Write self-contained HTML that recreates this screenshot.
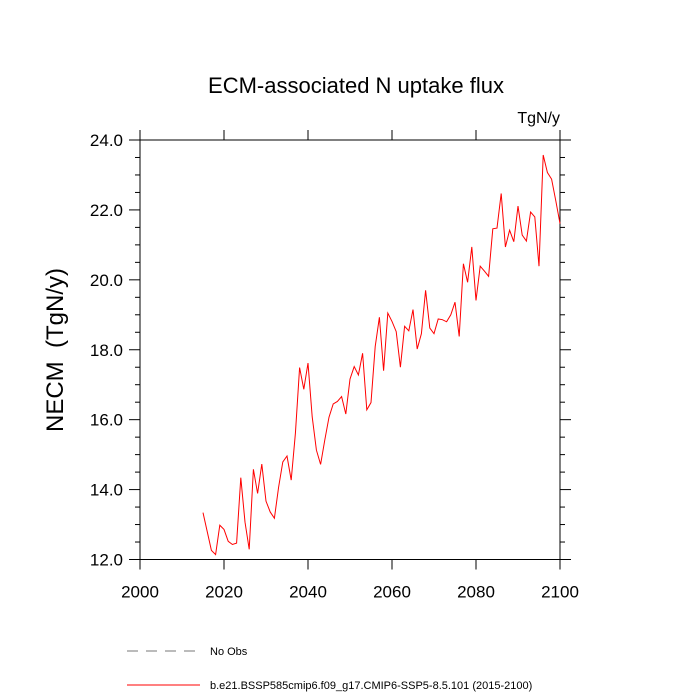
<!DOCTYPE html>
<html><head><meta charset="utf-8"><style>
html,body{margin:0;padding:0;background:#fff;width:700px;height:700px;overflow:hidden}
svg{display:block;font-family:"Liberation Sans",Arial,sans-serif}
</style></head><body>
<svg id="c" width="700" height="700" viewBox="0 0 700 700">
<text x="356" y="93" font-size="22" text-anchor="middle">ECM-associated N uptake flux</text>
<text x="560" y="123" font-size="16" text-anchor="end">TgN/y</text>
<text transform="translate(63,350) rotate(-90)" font-size="24" text-anchor="middle">NECM&#160; (TgN/y)</text>
<g id="axes"></g>
<g id="series"></g>
<g>
<line x1="127" y1="651" x2="200" y2="651" stroke="#777" stroke-width="1" stroke-dasharray="11,8"/>
<text x="210" y="655" font-size="11">No Obs</text>
<line x1="127" y1="685" x2="200" y2="685" stroke="#f00" stroke-width="1"/>
<text x="210" y="689" font-size="11">b.e21.BSSP585cmip6.f09_g17.CMIP6-SSP5-8.5.101 (2015-2100)</text>
</g>
</svg>
<script>
const startYear = 2015;
const values = [13.34,12.80,12.26,12.14,12.98,12.86,12.52,12.43,12.47,14.34,13.07,12.29,14.58,13.89,14.73,13.67,13.36,13.18,14.07,14.79,14.96,14.27,15.61,17.49,16.87,17.62,16.08,15.13,14.72,15.42,16.07,16.45,16.52,16.66,16.16,17.16,17.52,17.28,17.90,16.28,16.49,18.09,18.93,17.40,19.05,18.81,18.52,17.50,18.67,18.54,19.15,18.02,18.46,19.70,18.62,18.46,18.88,18.86,18.80,19.00,19.36,18.38,20.46,19.93,20.94,19.41,20.39,20.25,20.10,21.46,21.48,22.47,20.94,21.42,21.09,22.11,21.28,21.11,21.94,21.80,20.39,23.57,23.07,22.88,22.26,21.61];
const xTicks = [2000,2020,2040,2060,2080,2100];
const yTicks = [12.0,14.0,16.0,18.0,20.0,22.0,24.0];
const xDomain = [2000,2100];
const yDomain = [12,24];

const NS="http://www.w3.org/2000/svg";
const L=140,R=560,T=140,B=559.5;
const xs=v=>L+(v-xDomain[0])/(xDomain[1]-xDomain[0])*(R-L);
const ys=v=>B-(v-yDomain[0])/(yDomain[1]-yDomain[0])*(B-T);
function mk(tag,attrs,parent){const e=document.createElementNS(NS,tag);for(const k in attrs)e.setAttribute(k,attrs[k]);parent.appendChild(e);return e;}
const ax=document.getElementById('axes');
const frame=mk('rect',{x:L,y:T,width:R-L,height:B-T,fill:'none',stroke:'#000','stroke-width':1},ax);


xTicks.forEach(t=>{
  const x=xs(t);
  const a=mk('line',{x1:x,y1:B,x2:x,y2:B+10,stroke:'#000'},ax);
  
  
  const b=mk('line',{x1:x,y1:T,x2:x,y2:T-10,stroke:'#000'},ax);
  
  
  const tx=mk('text',{x:x,y:B+38,'font-size':17,'text-anchor':'middle'},ax);
  tx.textContent=t;
  
  
});
for(let v=yDomain[0];v<=yDomain[1]+1e-9;v+=0.5){
  const y=ys(v);const major=Math.abs(v-Math.round(v/2)*2)<1e-9;
  const len=major?11:5;
  const a=mk('line',{x1:L-len,y1:y,x2:L,y2:y,stroke:'#000'},ax);
  
  
  const b=mk('line',{x1:R,y1:y,x2:R+len,y2:y,stroke:'#000'},ax);
  
  
}
yTicks.forEach(t=>{
  const tx=mk('text',{x:L-17,y:ys(t)+6,'font-size':17,'text-anchor':'end'},ax);
  tx.textContent=t.toFixed(1);
  
  
});
const pts=values.map((v,i)=>xs(startYear+i).toFixed(2)+','+ys(v).toFixed(2)).join(' ');
const line=mk('polyline',{points:pts,fill:'none',stroke:'#f00','stroke-width':1},document.getElementById('series'));


</script>
</body></html>
